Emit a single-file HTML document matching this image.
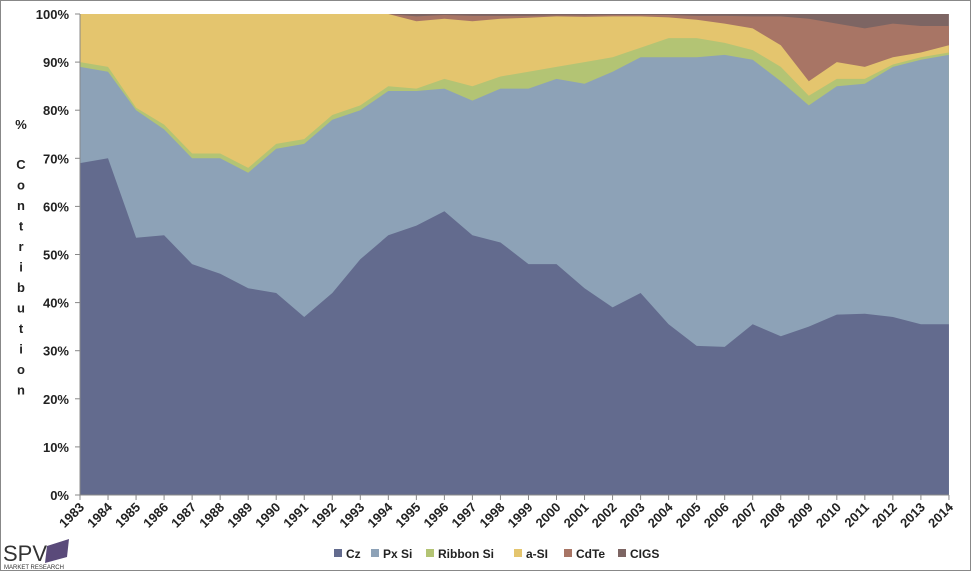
<!DOCTYPE html><html><head><style>
body{margin:0;background:#fff;}
#w{position:relative;width:969px;height:569px;border:1px solid #888;overflow:hidden;font-family:"Liberation Sans",sans-serif;}
</style></head><body><div id="w">
<svg id="s" width="969" height="569" xmlns="http://www.w3.org/2000/svg"></svg>
</div>
<script>
const d=[[69,89,90,100,100],[70,88,89,100,100],[53.5,80,80.5,100,100],[54,76,77,100,100],[48,70,71,100,100],[46,70,71,100,100],[43,67,68,100,100],[42,72,73,100,100],[37,73,74,100,100],[42,78,79,100,100],[49,80,81,100,100],[54,84,85,100,100],[56,84,84.5,98.5,99.5],[59,84.5,86.5,99,99.8],[54,82,85,98.5,99.6],[52.5,84.5,87,99,99.6],[48,84.5,88,99.2,99.6],[48,86.5,89,99.5,99.7],[43,85.5,90,99.4,99.7],[39,88,91,99.5,99.8],[42,91,93,99.5,99.8],[35.5,91,95,99.3,99.8],[31,91,95,98.8,99.6],[30.8,91.5,94,98,99.6],[35.5,90.5,92.5,97,99.5],[33,86,89,93.5,99.5],[35,81,83,86,99],[37.5,85,86.5,90,98],[37.7,85.5,86.5,89,97],[37,89,89.5,91,98],[35.5,90.5,91,92,97.5],[35.5,91.5,92,93.5,97.5]];
const col=["#636b8e","#8da2b7","#b3c474","#e4c56e","#a87565","#7d6563"];
const X=i=>79+i*28.03,Y=p=>494-4.81*p;
let h='';
for(let s=5;s>=0;s--){let pts=[];for(let i=0;i<32;i++){let v=s==5?100:d[i][s];pts.push(X(i).toFixed(1)+','+Y(v).toFixed(1));}
pts.push(X(31)+','+Y(0),X(0)+','+Y(0));h+=`<polygon points="${pts.join(' ')}" fill="${col[s]}"/>`;}
h+=`<line x1="79" y1="13" x2="79" y2="494" stroke="#888"/><line x1="79" y1="494" x2="948" y2="494" stroke="#888"/>`;
for(let p=0;p<=100;p+=10){h+=`<text x="68" y="${Y(p)+5}" text-anchor="end" font-size="13" font-weight="bold" fill="#222">${p}%</text><line x1="74" x2="79" y1="${Y(p)}" y2="${Y(p)}" stroke="#888"/>`;}
for(let i=0;i<32;i++){let x=X(i);h+=`<line x1="${x}" x2="${x}" y1="494" y2="499" stroke="#888"/><text transform="translate(${x+5},${507}) rotate(-45)" text-anchor="end" font-size="13" font-weight="bold" fill="#222">${1983+i}</text>`;}
h+=`<text x="20" y="128" text-anchor="middle" font-size="13" font-weight="bold" fill="#222">%</text>`;
"Contribution".split('').forEach((c,k)=>{h+=`<text x="20" y="${168+k*20.5}" text-anchor="middle" font-size="13" font-weight="bold" fill="#222">${c}</text>`;});
const L=[["Cz",333],["Px Si",370],["Ribbon Si",425],["a-SI",513],["CdTe",563],["CIGS",617]];
L.forEach((l,k)=>{h+=`<rect x="${l[1]}" y="548" width="8" height="8" fill="${col[k]}"/><text x="${l[1]+12}" y="557" font-size="12" font-weight="bold" fill="#222">${l[0]}</text>`;});
h+=`<text x="2" y="560" font-size="22" fill="#333">SPV</text><polygon points="46,545 68,538 66,556 44,562" fill="#5a4a7a"/><text x="3" y="568" font-size="6" fill="#333">MARKET RESEARCH</text>`;
document.getElementById('s').innerHTML=h;
</script></body></html>
